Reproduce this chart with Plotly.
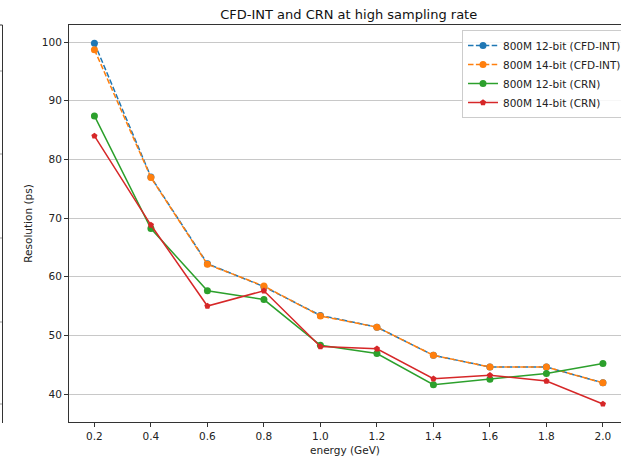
import plotly.graph_objects as go

energy = [0.2, 0.4, 0.6, 0.8, 1.0, 1.2, 1.4, 1.6, 1.8, 2.0]
cfd_12bit = [99.8, 77.0, 62.2, 58.3, 53.4, 51.4, 46.6, 44.6, 44.6, 41.9]
cfd_14bit = [98.7, 76.9, 62.1, 58.4, 53.3, 51.4, 46.6, 44.6, 44.6, 41.9]
crn_12bit = [87.4, 68.2, 57.6, 56.1, 48.3, 46.9, 41.6, 42.5, 43.5, 45.2]
crn_14bit = [84.0, 68.8, 55.0, 57.6, 48.1, 47.7, 42.6, 43.2, 42.2, 38.3]

names = ["800M 12-bit (CFD-INT)", "800M 14-bit (CFD-INT)", "800M 12-bit (CRN)", "800M 14-bit (CRN)"]
colors = ["#1f77b4", "#ff7f0e", "#2ca02c", "#d62728"]
dashes = ["5.5px,2.4px", "5.5px,2.4px", "solid", "solid"]
symbols = ["circle", "circle", "circle", "pentagon"]
sizes = [7, 7, 7, 6.5]
series = [cfd_12bit, cfd_14bit, crn_12bit, crn_14bit]

fig = go.Figure()
for y, n, c, d, s, sz in zip(series, names, colors, dashes, symbols, sizes):
    fig.add_trace(go.Scatter(
        x=energy, y=y, name=n, mode="lines+markers",
        line=dict(color=c, width=1.5, dash=d),
        marker=dict(color=c, symbol=s, size=sz, line=dict(width=0)),
    ))

font = "DejaVu Sans"
fig.update_layout(
    width=621, height=459,
    margin=dict(l=69, r=0, t=25, b=37, autoexpand=False),
    paper_bgcolor="white", plot_bgcolor="white",
    font=dict(family=font, size=10.5, color="#222"),
    title=dict(text="CFD-INT and CRN at high sampling rate", x=0.5615, xanchor="center",
               y=1 - 14/459, yanchor="middle", font=dict(size=13, color="#111")),
    showlegend=True,
    legend=dict(x=(462-69)/552, y=1 - 5/397, xanchor="left", yanchor="top",
                bgcolor="rgba(255,255,255,0.85)", bordercolor="#cccccc", borderwidth=1,
                font=dict(size=10.5, color="#222"), tracegroupgap=0, itemwidth=30),
    xaxis=dict(range=[0.11, 2.064], tickvals=energy, ticktext=[f"{v:.1f}" for v in energy],
               showgrid=False, zeroline=False, showline=True, linecolor="#333", linewidth=1,
               mirror=True, ticks="outside", ticklen=4, tickcolor="#333",
               title=dict(text="energy (GeV)", font=dict(size=10.5), standoff=6)),
    yaxis=dict(range=[35.23, 102.9], tickvals=[40, 50, 60, 70, 80, 90, 100],
               showgrid=True, gridcolor="#c8c8c8", gridwidth=1, zeroline=False,
               showline=True, linecolor="#333", linewidth=1, mirror=False,
               ticks="outside", ticklen=4, tickcolor="#333",
               title=dict(text="Resolution (ps)", font=dict(size=10.5), standoff=7)),
)

# cropped neighbouring axes frame at far left
px = lambda x: (x - 69) / 552
py = lambda y: 1 - (y - 25) / 397
fig.add_shape(type="line", xref="paper", yref="paper", x0=px(2.5), x1=px(2.5), y0=py(25), y1=py(423),
              line=dict(color="#333", width=1))
fig.add_shape(type="line", xref="paper", yref="paper", x0=px(0), x1=px(2.5), y0=py(25), y1=py(25),
              line=dict(color="#333", width=1))
for ty in [71, 154, 238, 322, 404]:
    fig.add_shape(type="line", xref="paper", yref="paper", x0=px(0), x1=px(2), y0=py(ty), y1=py(ty),
                  line=dict(color="#999", width=1))

fig.write_html("out.html")
